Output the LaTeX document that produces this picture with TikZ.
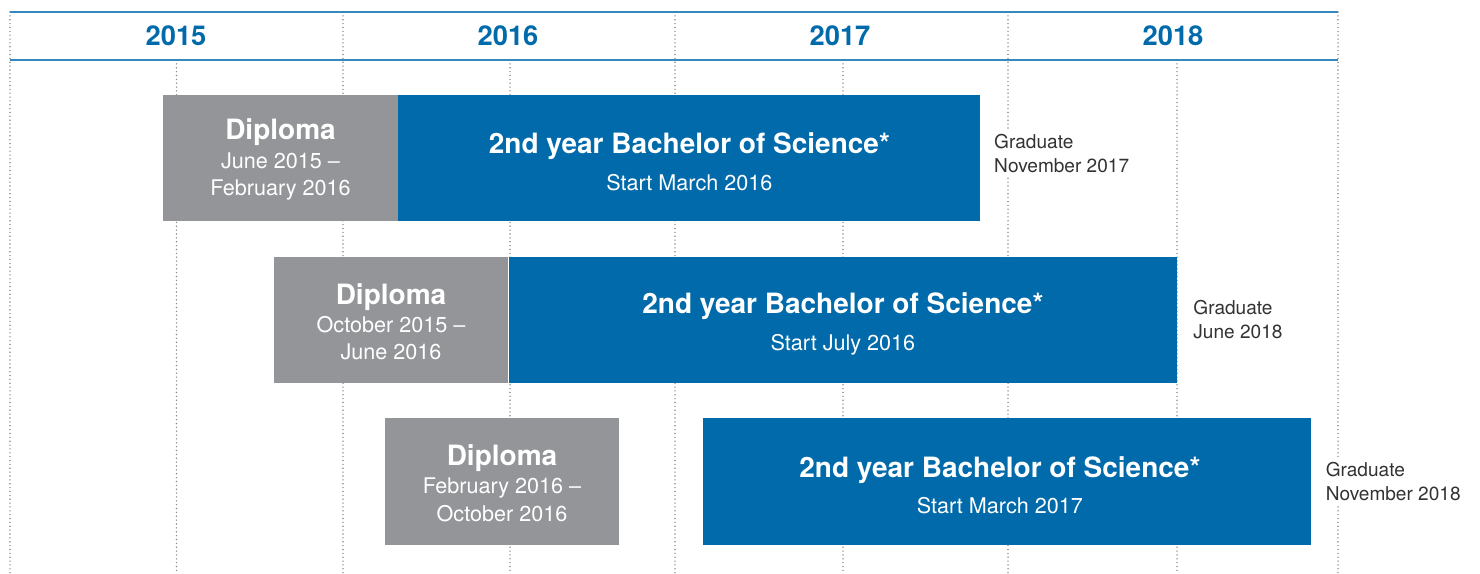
\documentclass[tikz,border=0pt]{standalone}
\usepackage{fontspec}
\setmainfont{TeX Gyre Heros}
\usetikzlibrary{positioning}
\definecolor{bscblue}{HTML}{006AAB}
\definecolor{dipgray}{HTML}{939598}
\definecolor{gradtext}{HTML}{333333}
\definecolor{gridgray}{HTML}{8A8C8E}
\tikzset{
  gridline/.style={gridgray, line width=1.2pt, line cap=round, dash pattern=on 0pt off 2.9pt},
  headline/.style={bscblue!80, line width=1.1pt},
  yearlabel/.style={text=bscblue, font=\fontsize{20.5}{22}\selectfont\bfseries},
  diploma/.style={fill=dipgray, text=white, minimum width=176pt, minimum height=95pt,
    inner sep=0pt, align=center, font=\fontsize{16.2}{20.3}\selectfont},
  bsc/.style={fill=bscblue, text=white, minimum height=95pt,
    inner sep=0pt, align=center, font=\fontsize{16.2}{20.3}\selectfont},
  grad/.style={fill=white, text=gradtext, align=left, inner sep=3pt,
    font=\fontsize{14.3}{18}\selectfont},
}
\newcommand{\boxtitle}[2][18pt]{{\fontsize{21}{22}\selectfont\bfseries\rule{0pt}{#1}#2}}
\begin{document}
\begin{tikzpicture}[x=0.75pt, y=-0.75pt]
        \useasboundingbox (0,0) rectangle (1480,574);
        % grid
        \foreach \i in {10, 343, 675, 1008, 1338}{
          \draw[gridline] (\i,12) -- (\i,574);
        }
        \foreach \i in {176.5, 510, 843, 1177}{
          \draw[gridline] (\i,60) -- (\i,574);
        }
        \draw[headline] (10,12) -- (1338,12);
        \draw[headline] (10,60) -- (1338,60);
        \foreach \y/\x in {2015/176, 2016/508, 2017/840, 2018/1173}{
          \node[yearlabel] (y\y) at (\x,36) {\y};
        }
        % row 1
        \node[diploma] (dip1) at (280.5,158) {\boxtitle{Diploma}\\[1pt] June 2015 --\\ February 2016};
        \node[bsc, minimum width=436.5pt, right=0pt of dip1] (bsc1) {\boxtitle[21.5pt]{2nd year Bachelor of Science*}\\[7pt] Start March 2016};
        \node[grad, right=7pt of bsc1, yshift=3pt] (grad1) {Graduate\\ November 2017};
        % row 2
        \node[diploma] (dip2) at (391,320) {\boxtitle{Diploma}\\[1pt] October 2015 --\\ June 2016};
        \node[bsc, minimum width=501pt, right=0pt of dip2] (bsc2) {\boxtitle[21.5pt]{2nd year Bachelor of Science*}\\[7pt] Start July 2016};
        \node[grad, right=9pt of bsc2] (grad2) {Graduate\\ June 2018};
        % row 3
        \node[diploma] (dip3) at (502,481.5) {\boxtitle{Diploma}\\[1pt] February 2016 --\\ October 2016};
        \node[bsc, minimum width=456pt, right=62pt of dip3] (bsc3) {\boxtitle[21.5pt]{2nd year Bachelor of Science*\hspace*{10pt}}\\[7pt] Start March 2017\hspace*{10pt}};
        \node[grad, right=8pt of bsc3] (grad3) {Graduate\\ November 2018};
      \end{tikzpicture}
\end{document}
